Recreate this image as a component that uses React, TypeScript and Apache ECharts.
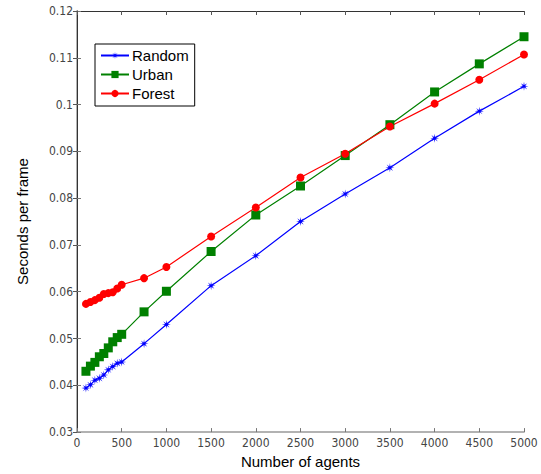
import React, { useEffect, useRef } from "react";
import * as echarts from "echarts";

const agents = [100, 150, 200, 250, 300, 350, 400, 450, 500, 750, 1000, 1500, 2000, 2500, 3000, 3500, 4000, 4500, 5000];
const randomVals = [0.0394, 0.0401, 0.0411, 0.0415, 0.0422, 0.0433, 0.044, 0.0447, 0.045, 0.0489, 0.053, 0.0613, 0.0677, 0.075, 0.0809, 0.0865, 0.0928, 0.0986, 0.1039];
const urbanVals = [0.043, 0.0441, 0.0449, 0.0461, 0.0468, 0.048, 0.0493, 0.0502, 0.0509, 0.0557, 0.0601, 0.0686, 0.0764, 0.0826, 0.0891, 0.0957, 0.1027, 0.1087, 0.1145];
const forestVals = [0.0574, 0.0578, 0.0582, 0.0587, 0.0595, 0.0597, 0.0599, 0.0607, 0.0615, 0.0629, 0.0653, 0.0718, 0.078, 0.0844, 0.0895, 0.0953, 0.1002, 0.1053, 0.1107];

const seriesNames = ["Random", "Urban", "Forest"];

const starPath =
  "path://M20 10 L12.77 11.15 L17.07 17.07 L11.15 12.77 L10 20 L8.85 12.77 L2.93 17.07 L7.23 11.15 L0 10 L7.23 8.85 L2.93 2.93 L8.85 7.23 L10 0 L11.15 7.23 L17.07 2.93 L12.77 8.85 Z";

const tickFont = "'DejaVu Sans Condensed', 'Liberation Sans Narrow', sans-serif";
const mainFont = "'Liberation Sans', Arial, sans-serif";

export default function App() {
  const ref = useRef<HTMLDivElement>(null);
  useEffect(() => {
    if (!ref.current) return;
    const chart = echarts.init(ref.current, null, { renderer: "svg" });
    const pair = (vals: number[]) => agents.map((a, i) => [a, vals[i]]);
    const grayLine = { show: true, lineStyle: { color: "#999", width: 1.5 } };
    const darkLine = { show: true, lineStyle: { color: "#333", width: 1 } };
    chart.setOption({
      animation: false,
      backgroundColor: "#fff",
      grid: { left: 77, right: 17, top: 11, bottom: 40, containLabel: false },
      legend: {
        orient: "vertical",
        left: 95,
        top: 44,
        padding: [4, 6, 5, 5],
        itemGap: 4,
        itemWidth: 28,
        itemHeight: 9,
        borderColor: "#000",
        borderWidth: 1,
        borderRadius: 0,
        backgroundColor: "#fff",
        data: seriesNames,
        textStyle: { fontFamily: mainFont, fontSize: 15, color: "#000", padding: [0, 0, 0, -2] },
      },
      xAxis: [
        {
          type: "value",
          min: 0,
          max: 5000,
          interval: 500,
          position: "bottom",
          name: "Number of agents",
          nameLocation: "middle",
          nameGap: 20,
          nameTextStyle: { fontFamily: mainFont, fontSize: 15, color: "#000" },
          axisLine: grayLine,
          axisTick: { show: true, inside: true, length: 4, lineStyle: { color: "#777" } },
          axisLabel: {
            fontFamily: tickFont,
            fontSize: 12,
            color: "#444",
            margin: 5,
            formatter: (v: number) => String(v),
          },
          splitLine: { show: false },
        },
        {
          type: "value",
          min: 0,
          max: 5000,
          interval: 500,
          position: "top",
          axisLine: darkLine,
          axisTick: { show: true, inside: true, length: 4, lineStyle: { color: "#555" } },
          axisLabel: { show: false },
          splitLine: { show: false },
        },
      ],
      yAxis: [
        {
          type: "value",
          min: 0.03,
          max: 0.12,
          interval: 0.01,
          position: "left",
          name: "Seconds per frame",
          nameLocation: "middle",
          nameGap: 47,
          nameTextStyle: { fontFamily: mainFont, fontSize: 15, color: "#000" },
          axisLine: grayLine,
          axisTick: { show: true, inside: true, length: 4, lineStyle: { color: "#777" } },
          axisLabel: {
            fontFamily: tickFont,
            fontSize: 12,
            color: "#444",
            margin: 4,
            formatter: (v: number) => String(parseFloat(v.toFixed(2))),
          },
          splitLine: { show: false },
        },
        {
          type: "value",
          min: 0.03,
          max: 0.12,
          interval: 0.01,
          position: "right",
          axisLine: darkLine,
          axisTick: { show: true, inside: true, length: 4, lineStyle: { color: "#555" } },
          axisLabel: { show: false },
          splitLine: { show: false },
        },
      ],
      series: [
        {
          name: "Random",
          type: "line",
          data: pair(randomVals),
          symbol: starPath,
          symbolSize: 9,
          lineStyle: { color: "#0000ff", width: 1.2 },
          itemStyle: { color: "#0000ff" },
        },
        {
          name: "Urban",
          type: "line",
          data: pair(urbanVals),
          symbol: "rect",
          symbolSize: 9,
          lineStyle: { color: "#008000", width: 1.2 },
          itemStyle: { color: "#008000" },
        },
        {
          name: "Forest",
          type: "line",
          data: pair(forestVals),
          symbol: "circle",
          symbolSize: 8,
          lineStyle: { color: "#ff0000", width: 1.2 },
          itemStyle: { color: "#ff0000" },
        },
      ],
    });
    return () => chart.dispose();
  }, []);
  return <div ref={ref} style={{ width: 541, height: 474, position: "absolute", left: 0, top: 0 }} />;
}
